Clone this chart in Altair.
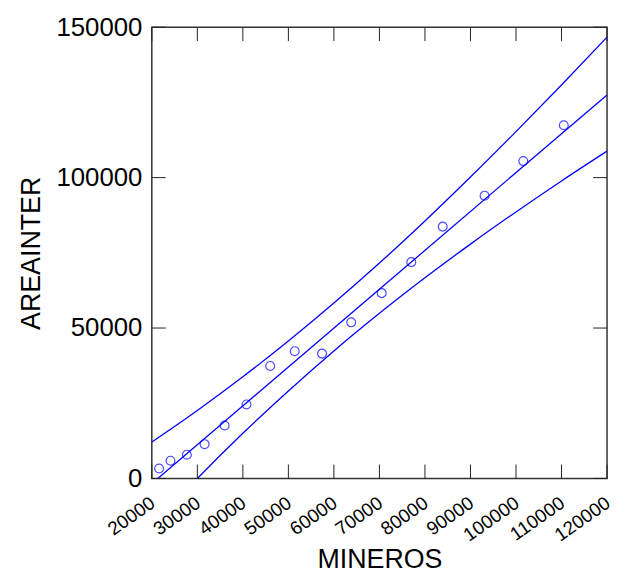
import altair as alt
import pandas as pd

# Scatter points
mineros = [21600, 24100, 27700, 31600, 36000, 40800, 46000, 51400,
           57400, 63800, 70500, 77000, 83900, 93100, 101600, 110500]
areainter = [3300, 5900, 7900, 11400, 17600, 24600, 37400, 42300,
             41500, 51900, 61600, 71900, 83700, 94000, 105500, 117400]

# Fitted line (read at both ends of the x range)
fit_x = [20000, 120000]
fit_y = [-1700, 127500]

# Confidence bands
band_x = [20000, 30000, 40000, 50000, 60000, 70000, 80000, 90000, 100000, 110000, 120000]
upper = [12100, 22600, 33800, 45700, 58300, 71600, 85600, 100200, 115300, 130800, 146700]
lower = [-15900, 0, 15000, 29100, 42400, 54900, 66700, 77900, 88600, 98900, 108800]

# Tick values
x_ticks = [20000, 30000, 40000, 50000, 60000, 70000, 80000, 90000, 100000, 110000, 120000]
y_ticks = [0, 50000, 100000, 150000]

W, H = 459, 455
TL = 14
BLUE = "#0000ff"
TICK = "#222222"

xscale = alt.Scale(domain=[20000, 120000], nice=False, zero=False)
yscale = alt.Scale(domain=[0, 150000], nice=False, zero=False)

X = alt.X("x:Q", scale=xscale, title="MINEROS",
          axis=alt.Axis(values=x_ticks, format="d", labelAngle=325,
                        labelFontSize=19, labelPadding=15, labelOffset=-4.5,
                        labelFlush=False, labelOverlap=False, titleFontSize=27,
                        titleBaseline="alphabetic", titleY=90))
Y = alt.Y("y:Q", scale=yscale, title="AREAINTER",
          axis=alt.Axis(values=y_ticks, format="d", labelFontSize=26,
                        labelPadding=10, labelFlush=False, labelOverlap=False,
                        titleFontSize=27, titlePadding=10))

pts = pd.DataFrame({"x": mineros, "y": areainter})
fit = pd.DataFrame({"x": fit_x, "y": fit_y})
up = pd.DataFrame({"x": band_x, "y": upper})
lo = pd.DataFrame({"x": band_x, "y": lower})
xt = pd.DataFrame({"x": x_ticks})
yt = pd.DataFrame({"y": y_ticks})

points = alt.Chart(pts).mark_point(shape="circle", filled=False, size=80,
                                   color=BLUE, strokeWidth=1.2, clip=True).encode(x=X, y=Y)
fit_line = alt.Chart(fit).mark_line(color=BLUE, strokeWidth=1.3, clip=True).encode(x=X, y=Y)
up_line = alt.Chart(up).mark_line(color=BLUE, strokeWidth=1.3, clip=True,
                                  interpolate="monotone").encode(x=X, y=Y)
lo_line = alt.Chart(lo).mark_line(color=BLUE, strokeWidth=1.3, clip=True,
                                  interpolate="monotone").encode(x=X, y=Y)

bottom_ticks = alt.Chart(xt).mark_rule(color=TICK, strokeWidth=1).encode(
    x=X, y=alt.value(H), y2=alt.value(H - TL))
top_ticks = alt.Chart(xt).mark_rule(color=TICK, strokeWidth=1).encode(
    x=X, y=alt.value(0), y2=alt.value(TL))
left_ticks = alt.Chart(yt).mark_rule(color=TICK, strokeWidth=1).encode(
    y=Y, x=alt.value(0), x2=alt.value(TL))
right_ticks = alt.Chart(yt).mark_rule(color=TICK, strokeWidth=1).encode(
    y=Y, x=alt.value(W), x2=alt.value(W - TL))

chart = alt.layer(
    up_line, lo_line, fit_line, points,
    bottom_ticks, top_ticks, left_ticks, right_ticks
).properties(
    width=W, height=H,
    autosize=alt.AutoSizeParams(type="none"),
    padding={"left": 145, "top": 17, "right": 5, "bottom": 97},
    background="white",
).configure_view(
    stroke="#333333", strokeWidth=1.5
).configure_axis(
    labelFont="Liberation Sans", titleFont="Liberation Sans",
    labelColor="black", titleColor="black", titleFontWeight="normal",
    grid=False, domain=False, ticks=False, tickSize=0
)

chart.save("out.html", embed_options={"renderer": "svg", "actions": False})
